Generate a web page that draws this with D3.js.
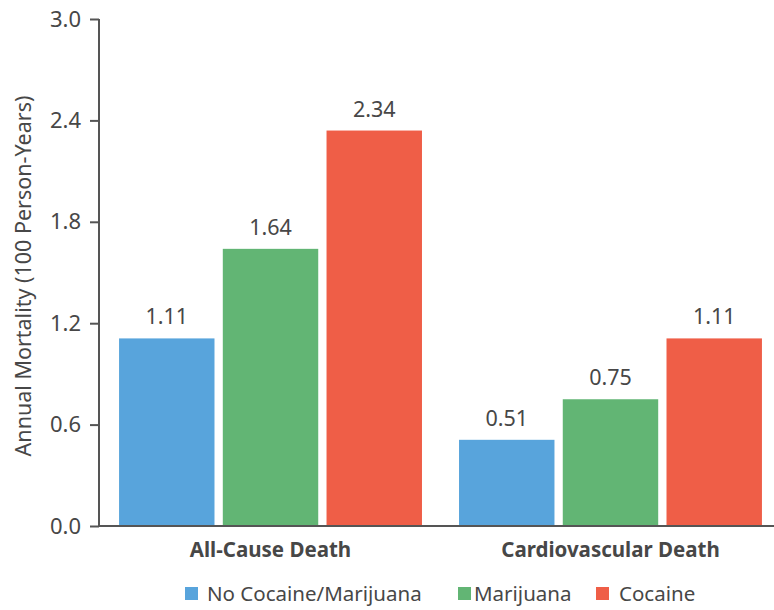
<!DOCTYPE html>
<html>
<head>
<meta charset="utf-8">
<script src="https://cdn.jsdelivr.net/npm/d3@7"></script>
<style>
  html, body { margin: 0; padding: 0; background: #fff; }
  svg { display: block; font-family: "Noto Sans", "Open Sans", sans-serif; }
</style>
</head>
<body>
<svg id="chart" width="774" height="610"></svg>
<script>
// Annual mortality by substance use group
const groups = ["All-Cause Death", "Cardiovascular Death"];
const seriesNames = ["No Cocaine/Marijuana", "Marijuana", "Cocaine"];
const noUse = [1.11, 0.51];
const marijuana = [1.64, 0.75];
const cocaine = [2.34, 1.11];
const yTicks = [0.0, 0.6, 1.2, 1.8, 2.4, 3.0];
const colors = ["#58a4dc", "#62b574", "#ef5e47"];

const values = [noUse, marijuana, cocaine];
const textColor = "#474747";
const axisColor = "#555";

const svg = d3.select("#chart");
const margin = { left: 99, top: 19, bottom: 526 };

const y = d3.scaleLinear().domain([0, 3.0]).range([margin.bottom, margin.top]);
const x0 = d3.scaleBand().domain(groups).range([99, 782])
  .paddingInner(0.109).paddingOuter(0.059);
const x1 = d3.scaleBand().domain(seriesNames).range([0, x0.bandwidth()])
  .paddingInner(0.08).paddingOuter(0);

// bars with value labels
groups.forEach((g, gi) => {
  const gEl = svg.append("g").attr("transform", `translate(${x0(g)},0)`);
  seriesNames.forEach((s, si) => {
    const v = values[si][gi];
    gEl.append("rect")
      .attr("x", x1(s))
      .attr("y", y(v))
      .attr("width", x1.bandwidth())
      .attr("height", y(0) - y(v))
      .attr("fill", colors[si]);
    gEl.append("text")
      .attr("x", x1(s) + x1.bandwidth() / 2)
      .attr("y", y(v) - 14)
      .attr("text-anchor", "middle")
      .attr("font-size", 21.5)
      .attr("fill", textColor)
      .text(v.toFixed(2));
  });
});

// y axis
const yAxis = d3.axisLeft(y).tickValues(yTicks).tickFormat(d3.format(".1f"))
  .tickSize(9).tickPadding(9);
const ya = svg.append("g").attr("transform", `translate(${margin.left},0)`).call(yAxis);
ya.select(".domain").attr("stroke", axisColor).attr("stroke-width", 2)
  .attr("d", `M0,${y(3.0)}V${y(0)}`);
ya.selectAll(".tick line").attr("stroke", axisColor).attr("stroke-width", 2);
ya.selectAll(".tick text").attr("font-size", 22).attr("fill", textColor)
  .attr("font-family", "Noto Sans, Open Sans, sans-serif");

// x axis baseline
svg.append("line")
  .attr("x1", margin.left - 1).attr("x2", 774)
  .attr("y1", y(0)).attr("y2", y(0))
  .attr("stroke", axisColor).attr("stroke-width", 2);

// group labels
groups.forEach((g) => {
  svg.append("text")
    .attr("x", x0(g) + x0.bandwidth() / 2)
    .attr("y", 557)
    .attr("text-anchor", "middle")
    .attr("font-size", 20.5)
    .attr("font-weight", "bold")
    .attr("fill", textColor)
    .text(g);
});

// y title
svg.append("text")
  .attr("transform", `translate(31,276) rotate(-90)`)
  .attr("text-anchor", "middle")
  .attr("font-size", 21.5)
  .attr("fill", textColor)
  .text("Annual Mortality (100 Person-Years)");

// legend
const legendX = [185, 458, 596];
seriesNames.forEach((s, si) => {
  const lg = svg.append("g").attr("transform", `translate(${legendX[si]},587)`);
  lg.append("rect").attr("width", 13).attr("height", 13).attr("fill", colors[si]);
  lg.append("text")
    .attr("x", si === 0 ? 22 : (si === 1 ? 16 : 23)).attr("y", 14)
    .attr("font-size", 20.5)
    .attr("fill", textColor)
    .text(s);
});
</script>
</body>
</html>
